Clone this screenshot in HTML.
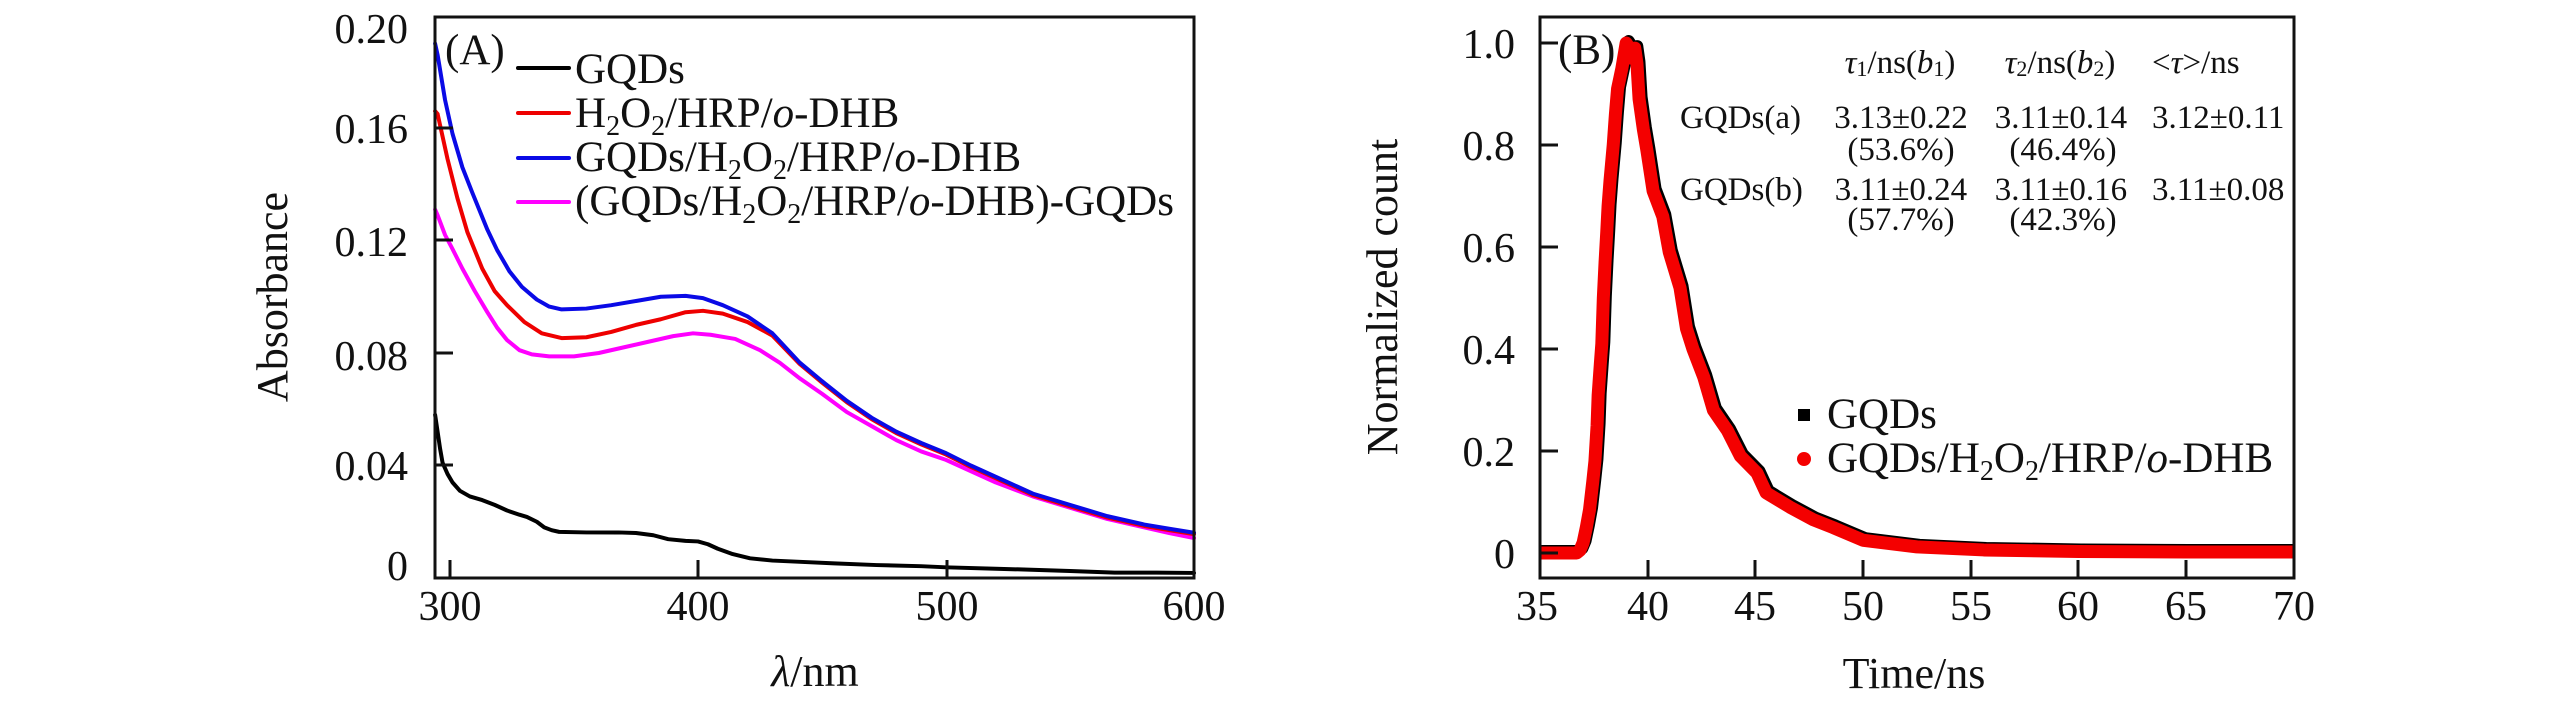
<!DOCTYPE html>
<html><head><meta charset="utf-8"><style>
html,body{margin:0;padding:0;background:#fff;}
svg{display:block;}
text{font-family:"Liberation Serif","Times New Roman",serif;fill:#111;}
</style></head><body>
<svg width="2567" height="709" viewBox="0 0 2567 709" xmlns="http://www.w3.org/2000/svg">
<defs>
<clipPath id="clipB"><rect x="1541" y="18" width="752" height="559"/></clipPath>
</defs>
<rect width="2567" height="709" fill="#fff"/>

<!-- ===== Panel A ===== -->
<g fill="none" stroke-linejoin="round" stroke-linecap="round">
<g transform="matrix(2.48 0 0 -2812.5 -294 578)">
<polyline vector-effect="non-scaling-stroke" stroke="#ff00ff" stroke-width="4" points="294,0.131 295,0.129 298,0.122 301,0.117 305,0.110 310,0.102 315,0.0946 319,0.089 323,0.0846 328,0.081 333,0.0795 340,0.0788 350,0.0788 360,0.080 370,0.082 380,0.084 390,0.086 398,0.087 405,0.0865 415,0.085 425,0.081 433,0.0765 441,0.071 450,0.0655 460,0.059 470,0.054 480,0.049 490,0.045 500,0.042 510,0.038 520,0.034 535,0.029 550,0.025 565,0.021 580,0.018 590,0.016 600,0.0142"/>
<polyline vector-effect="non-scaling-stroke" stroke="#ee0000" stroke-width="4" points="294,0.166 295,0.165 299,0.149 303,0.135 307,0.123 313,0.110 318,0.102 323,0.097 330,0.091 337,0.087 345,0.0853 355,0.0856 365,0.0875 375,0.090 385,0.092 395,0.0945 402,0.095 410,0.094 420,0.091 430,0.0862 441,0.0761 450,0.0695 460,0.0625 470,0.0565 480,0.0515 490,0.0475 500,0.0439 510,0.0395 520,0.0355 535,0.0295 550,0.0255 565,0.0215 580,0.0185 590,0.017 600,0.0156"/>
<polyline vector-effect="non-scaling-stroke" stroke="#0a0ae6" stroke-width="4" points="294,0.190 295,0.186 298,0.170 301,0.158 305,0.146 309,0.137 315,0.124 319,0.1166 324,0.109 329,0.1035 335,0.099 340,0.0965 345,0.0955 355,0.0958 365,0.097 375,0.0985 385,0.100 395,0.1003 402,0.0995 410,0.097 420,0.093 430,0.087 441,0.0766 450,0.070 460,0.063 470,0.057 480,0.052 490,0.048 500,0.0444 510,0.040 520,0.036 535,0.030 550,0.026 565,0.022 580,0.019 590,0.0175 600,0.0161"/>
<polyline vector-effect="non-scaling-stroke" stroke="#000" stroke-width="4" points="294,0.058 295,0.052 296,0.046 297,0.041 299,0.037 301,0.034 304,0.031 308,0.029 313,0.0277 318,0.026 323,0.024 328,0.0225 331,0.0217 335,0.020 338,0.018 341,0.017 344,0.0164 355,0.0162 368,0.0162 375,0.016 382,0.0152 388,0.0138 395,0.0132 400,0.013 404,0.012 408,0.0104 414,0.0085 421,0.007 430,0.0062 440,0.0058 455,0.0052 472,0.0046 490,0.0042 500,0.0038 520,0.0033 536,0.0029 550,0.0025 568,0.0019 585,0.0019 600,0.0018"/>
</g>
</g>
<!-- axes A -->
<rect x="435" y="17" width="759" height="561" fill="none" stroke="#111" stroke-width="3"/>
<g stroke="#111" stroke-width="3">
<line x1="435" y1="128" x2="453" y2="128"/>
<line x1="435" y1="240" x2="453" y2="240"/>
<line x1="435" y1="353" x2="453" y2="353"/>
<line x1="435" y1="465" x2="453" y2="465"/>
<line x1="450" y1="578" x2="450" y2="560"/>
<line x1="698" y1="578" x2="698" y2="560"/>
<line x1="947" y1="578" x2="947" y2="560"/>
</g>
<g font-size="42" text-anchor="end">
<text x="408" y="43">0.20</text>
<text x="408" y="143">0.16</text>
<text x="408" y="256">0.12</text>
<text x="408" y="370">0.08</text>
<text x="408" y="480">0.04</text>
<text x="408" y="580">0</text>
</g>
<g font-size="42" text-anchor="middle">
<text x="450" y="620">300</text>
<text x="698" y="620">400</text>
<text x="947" y="620">500</text>
<text x="1194" y="620">600</text>
</g>
<text x="815" y="686" font-size="44" text-anchor="middle"><tspan font-style="italic">λ</tspan>/nm</text>
<text transform="translate(287,297) rotate(-90)" font-size="44" text-anchor="middle">Absorbance</text>
<text x="445" y="64" font-size="43">(A)</text>
<!-- legend A -->
<g stroke-width="4" stroke-linecap="round">
<line x1="518" y1="68" x2="569" y2="68" stroke="#000"/>
<line x1="518" y1="113" x2="569" y2="113" stroke="#ee0000"/>
<line x1="518" y1="158" x2="569" y2="158" stroke="#0a0ae6"/>
<line x1="518" y1="202" x2="569" y2="202" stroke="#ff00ff"/>
</g>
<g font-size="43">
<text x="575" y="83">GQDs</text>
<text x="575" y="127">H<tspan font-size="28" dy="8">2</tspan><tspan dy="-8">O</tspan><tspan font-size="28" dy="8">2</tspan><tspan dy="-8">/HRP/</tspan><tspan font-style="italic">o</tspan>-DHB</text>
<text x="575" y="171">GQDs/H<tspan font-size="28" dy="8">2</tspan><tspan dy="-8">O</tspan><tspan font-size="28" dy="8">2</tspan><tspan dy="-8">/HRP/</tspan><tspan font-style="italic">o</tspan>-DHB</text>
<text x="575" y="215">(GQDs/H<tspan font-size="28" dy="8">2</tspan><tspan dy="-8">O</tspan><tspan font-size="28" dy="8">2</tspan><tspan dy="-8">/HRP/</tspan><tspan font-style="italic">o</tspan>-DHB)-GQDs</text>
</g>

<!-- ===== Panel B ===== -->
<g clip-path="url(#clipB)">
<g fill="none" stroke-linejoin="round" stroke-linecap="round">
<g transform="translate(2.5,-2)">
<g transform="matrix(21.54 0 0 -510 786.1 553)">
<polyline vector-effect="non-scaling-stroke" stroke="#000" stroke-width="12" points="35,0 36.7,0 36.85,0.005 37.0,0.02 37.15,0.05 37.3,0.085 37.45,0.14 37.55,0.18 37.65,0.25 37.7,0.31 37.8,0.37 37.87,0.41 37.94,0.50 38.02,0.57 38.1,0.63 38.16,0.68 38.25,0.73 38.4,0.80 38.5,0.86 38.6,0.91 38.8,0.95 39.0,1.0 39.15,0.99 39.25,0.97 39.4,0.99 39.5,0.96 39.6,0.89 39.8,0.83 39.96,0.79 40.25,0.71 40.7,0.66 41.0,0.59 41.5,0.52 41.8,0.44 42.1,0.40 42.6,0.345 43.05,0.28 43.7,0.24 44.3,0.19 45.07,0.157 45.5,0.118 46.6,0.09 47.7,0.065 48.6,0.05 50,0.025 52.5,0.012 55.6,0.006 60,0.003 65,0.002 71,0.002"/>
</g>
</g>
<g transform="matrix(21.54 0 0 -510 786.1 553)">
<polyline vector-effect="non-scaling-stroke" stroke="#f40000" stroke-width="13" points="34.9,0 36.7,0 36.85,0.005 37.0,0.02 37.15,0.05 37.3,0.085 37.45,0.14 37.55,0.18 37.65,0.25 37.7,0.31 37.8,0.37 37.87,0.41 37.94,0.50 38.02,0.57 38.1,0.63 38.16,0.68 38.25,0.73 38.4,0.80 38.5,0.86 38.6,0.91 38.8,0.95 39.0,1.0 39.15,0.99 39.25,0.97 39.4,0.99 39.5,0.96 39.6,0.89 39.8,0.83 39.96,0.79 40.25,0.71 40.7,0.66 41.0,0.59 41.5,0.52 41.8,0.44 42.1,0.40 42.6,0.345 43.05,0.28 43.7,0.24 44.3,0.19 45.07,0.157 45.5,0.118 46.6,0.09 47.7,0.065 48.6,0.05 50,0.025 52.5,0.012 55.6,0.006 60,0.003 65,0.002 71,0.002"/>
</g>
</g>
</g>
<!-- axes B -->
<rect x="1540" y="17" width="754" height="561" fill="none" stroke="#111" stroke-width="3"/>
<g stroke="#111" stroke-width="3">
<line x1="1540" y1="43" x2="1558" y2="43"/>
<line x1="1540" y1="145" x2="1558" y2="145"/>
<line x1="1540" y1="247" x2="1558" y2="247"/>
<line x1="1540" y1="349" x2="1558" y2="349"/>
<line x1="1540" y1="451" x2="1558" y2="451"/>
<line x1="1540" y1="553" x2="1558" y2="553"/>
<line x1="1648" y1="578" x2="1648" y2="560"/>
<line x1="1755" y1="578" x2="1755" y2="560"/>
<line x1="1863" y1="578" x2="1863" y2="560"/>
<line x1="1971" y1="578" x2="1971" y2="560"/>
<line x1="2078" y1="578" x2="2078" y2="560"/>
<line x1="2186" y1="578" x2="2186" y2="560"/>
</g>
<g font-size="42" text-anchor="end">
<text x="1515" y="58">1.0</text>
<text x="1515" y="160">0.8</text>
<text x="1515" y="262">0.6</text>
<text x="1515" y="364">0.4</text>
<text x="1515" y="466">0.2</text>
<text x="1515" y="568">0</text>
</g>
<g font-size="42" text-anchor="middle">
<text x="1537" y="620">35</text>
<text x="1648" y="620">40</text>
<text x="1755" y="620">45</text>
<text x="1863" y="620">50</text>
<text x="1971" y="620">55</text>
<text x="2078" y="620">60</text>
<text x="2186" y="620">65</text>
<text x="2294" y="620">70</text>
</g>
<text x="1914" y="688" font-size="44" text-anchor="middle">Time/ns</text>
<text transform="translate(1397,297) rotate(-90)" font-size="44" text-anchor="middle">Normalized count</text>
<text x="1558" y="64" font-size="43">(B)</text>

<!-- table -->
<g font-size="33">
<text x="1900" y="73" text-anchor="middle"><tspan font-style="italic">τ</tspan><tspan font-size="22" dy="3">1</tspan><tspan dy="-3">/ns(</tspan><tspan font-style="italic">b</tspan><tspan font-size="22" dy="3">1</tspan><tspan dy="-3">)</tspan></text>
<text x="2060" y="73" text-anchor="middle"><tspan font-style="italic">τ</tspan><tspan font-size="22" dy="3">2</tspan><tspan dy="-3">/ns(</tspan><tspan font-style="italic">b</tspan><tspan font-size="22" dy="3">2</tspan><tspan dy="-3">)</tspan></text>
<text x="2152" y="73">&lt;<tspan font-style="italic">τ</tspan>&gt;/ns</text>
<text x="1680" y="128">GQDs(a)</text>
<text x="1901" y="128" text-anchor="middle">3.13±0.22</text>
<text x="1901" y="160" text-anchor="middle">(53.6%)</text>
<text x="2061" y="128" text-anchor="middle">3.11±0.14</text>
<text x="2063" y="160" text-anchor="middle">(46.4%)</text>
<text x="2152" y="128">3.12±0.11</text>
<text x="1680" y="200">GQDs(b)</text>
<text x="1901" y="200" text-anchor="middle">3.11±0.24</text>
<text x="1901" y="230" text-anchor="middle">(57.7%)</text>
<text x="2061" y="200" text-anchor="middle">3.11±0.16</text>
<text x="2063" y="230" text-anchor="middle">(42.3%)</text>
<text x="2152" y="200">3.11±0.08</text>
</g>

<!-- legend B -->
<rect x="1798" y="409" width="12" height="12" fill="#000"/>
<circle cx="1804" cy="459" r="7" fill="#f40000"/>
<g font-size="43">
<text x="1827" y="428">GQDs</text>
<text x="1827" y="472">GQDs/H<tspan font-size="28" dy="8">2</tspan><tspan dy="-8">O</tspan><tspan font-size="28" dy="8">2</tspan><tspan dy="-8">/HRP/</tspan><tspan font-style="italic">o</tspan>-DHB</text>
</g>
</svg>
</body></html>
